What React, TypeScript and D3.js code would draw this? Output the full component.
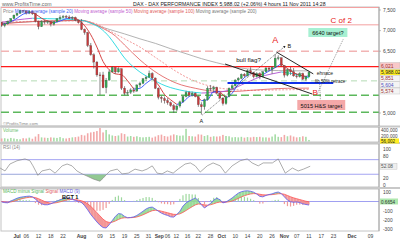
import React from "react";
import * as d3 from "d3";

// ---------- data (trading-day index, 0 = 1 Jul 2011) ----------
const FIRST_IDX = -5;
const opens = [7200,7121,7163,7227,7294,7376,7419,7492,7479,7428,7471,7419,7231,7095,7225,7209,7220,7157,7214,7290,7320,7344,7330,7300,7320,7250,7190,7029,6953,6637,6414,6236,5924,5923,5613,5798,5997,6108,5995,6074,5603,5480,5500,5560,5530,5680,5720,5830,5870,5960,5850,5600,5380,5350,5300,5250,5180,5080,5170,5270,5400,5500,5430,5480,5400,5200,5150,5320,5600,5580,5620,5480,5360,5230,5400,5600,5660,5800,5840,5940,5900,6030,5980,5880,5960,5880,6000,6090,6060,6110,6330,6340,6150,5920,6050,6000,5900,5880,5960,5820,5880];
const highs = [7210,7190,7240,7300,7390,7430,7510,7500,7485,7490,7480,7420,7240,7250,7260,7250,7225,7230,7300,7370,7380,7380,7370,7350,7340,7260,7280,7050,6970,6700,6450,6260,5990,6000,5850,6050,6140,6110,6110,6080,5650,5560,5600,5620,5700,5760,5850,5900,6030,5990,5860,5620,5420,5400,5360,5280,5220,5200,5300,5420,5540,5530,5520,5500,5420,5260,5350,5650,5680,5660,5640,5500,5380,5420,5620,5700,5820,5870,5960,5970,6060,6110,6000,5990,5990,6020,6120,6130,6140,6430,6400,6350,6160,6080,6120,6090,5960,5990,5980,5900,6000];
const lows = [7090,7080,7140,7200,7280,7350,7410,7440,7390,7400,7380,7200,7030,7090,7150,7160,7100,7120,7200,7260,7300,7300,7280,7260,7230,7170,7010,6900,6600,6390,6080,5880,5440,5600,5480,5790,5990,5950,5980,5560,5430,5430,5460,5490,5520,5620,5700,5780,5850,5820,5580,5330,5250,5230,5200,5150,5000,5040,5130,5250,5380,5400,5400,5380,5150,4960,5080,5300,5530,5500,5450,5330,5180,5200,5380,5560,5640,5760,5820,5860,5890,5960,5840,5860,5820,5870,5990,6010,5950,6100,6280,6130,5860,5890,5920,5880,5840,5860,5800,5780,5860];
const closes = [7121,7163,7227,7294,7376,7419,7492,7479,7428,7471,7419,7231,7095,7225,7209,7220,7157,7214,7290,7320,7344,7330,7300,7320,7250,7190,7029,6953,6637,6414,6236,5924,5923,5613,5798,5997,6108,5995,6074,5603,5480,5500,5560,5530,5680,5720,5830,5870,5960,5850,5600,5380,5350,5300,5250,5180,5080,5170,5270,5400,5500,5430,5480,5400,5200,5150,5320,5600,5580,5620,5480,5360,5230,5400,5600,5660,5800,5840,5940,5900,6030,5980,5880,5960,5880,6000,6090,6060,6110,6330,6340,6150,5920,6050,6000,5900,5880,5960,5820,5880,5988];
const volumes = [110,120,100,130,110,90,80,120,110,140,100,180,270,150,140,130,150,140,130,160,120,110,130,150,160,180,240,220,300,330,350,380,490,330,420,260,220,200,220,300,270,180,200,170,190,160,150,160,170,140,180,230,250,200,180,220,260,230,210,220,460,200,190,180,260,250,200,230,170,190,180,190,240,200,190,150,160,150,170,140,160,150,170,160,170,150,150,140,180,260,170,160,240,190,220,180,150,160,190,170,56];

// moving averages: [trading-day index, value]
const ma20: [number, number][] = [[-5,7150],[-3,7180],[0,7300],[2,7400],[4,7440],[6,7400],[8,7300],[10,7230],[12,7190],[14,7230],[16,7290],[18,7310],[20,7260],[22,7120],[24,6900],[26,6600],[28,6250],[30,6050],[32,5950],[34,5930],[36,5780],[38,5580],[40,5600],[42,5720],[44,5830],[46,5680],[48,5450],[50,5320],[52,5210],[54,5260],[56,5400],[58,5440],[60,5300],[62,5320],[64,5520],[66,5520],[68,5360],[70,5480],[72,5700],[74,5860],[76,5960],[78,5940],[80,5930],[82,6020],[84,6100],[86,6200],[88,6080],[90,5980],[92,5920],[94,5890],[95,5900]];
const ma50: [number, number][] = [[-5,7200],[0,7260],[5,7300],[10,7290],[15,7280],[21,7250],[24,7180],[27,7063],[30,6850],[32,6650],[35,6335],[40,5995],[44,5820],[47,5700],[53,5558],[60,5485],[66,5510],[70,5580],[73,5680],[76,5780],[79,5874],[83,5950],[86,5995],[90,5950],[95,5851]];
const ma100: [number, number][] = [[-5,7160],[5,7220],[15,7240],[21,7250],[24,7200],[27,7090],[32,6870],[35,6650],[40,6290],[46,5950],[52,5720],[58,5600],[64,5530],[70,5520],[76,5550],[82,5580],[88,5600],[95,5604]];
const maDotted: [number, number][] = [[-5,7210],[10,7230],[20,7235],[25,7185],[30,7000],[35,6800],[40,6600],[46,6300],[52,6000],[57,5800],[63,5650],[70,5570],[77,5550],[85,5560],[95,5574]];
const ma200: [number, number][] = [[-5,7180],[0,7200],[10,7230],[21,7245],[25,7150],[30,7030],[35,6920],[40,6800],[45,6690],[50,6560],[55,6440],[60,6320],[65,6220],[70,6130],[75,6070],[80,6040],[85,6030],[90,6025],[95,6021]];

const rsi: [number, number][] = [[-5.5,47],[-3.9,39],[-2.3,58],[0,67],[2.6,72],[4.2,67],[5.2,53],[6.8,27],[8.1,39],[10.7,44],[12.4,33],[14.7,53],[16.3,58],[17.9,53],[19.5,39],[21.2,31],[22.8,25],[24.8,17],[27,11],[28,19],[29.3,31],[30.3,39],[32.6,44],[34.2,31],[36.2,33],[38.4,44],[40.7,39],[42.3,44],[44,53],[45.6,33],[47.2,31],[48.9,39],[50.8,33],[52.4,44],[54.7,58],[56.4,61],[58,53],[59.6,36],[61.9,53],[63.8,61],[66.1,53],[67.8,33],[70,53],[72.6,67],[74.9,72],[76.5,61],[78.5,53],[80.1,61],[83.1,61],[85,72],[87.3,33],[89.6,47],[91.5,39],[93.2,44],[95.4,52]];

const macd = [-5,-12,-14,5,20,35,45,50,55,58,50,25,-5,-25,-35,-35,-25,-10,5,18,30,38,33,22,12,0,-10,-45,-90,-140,-180,-220,-255,-280,-285,-250,-205,-160,-130,-135,-160,-175,-172,-165,-150,-128,-105,-80,-65,-60,-80,-105,-125,-140,-150,-165,-168,-140,-105,-50,-15,5,20,38,10,-35,-70,-45,-20,15,35,20,-15,-5,15,38,65,90,105,113,115,110,100,80,55,50,65,75,82,95,102,85,50,15,-3,-8,-5,-12,-25,-32,-38];
const signal = [0,-5,-8,-5,3,14,25,33,40,45,47,42,30,15,0,-12,-18,-17,-12,-4,6,15,21,22,20,15,8,-5,-25,-52,-85,-120,-155,-190,-215,-225,-222,-210,-193,-180,-175,-175,-174,-172,-166,-156,-143,-128,-112,-99,-94,-97,-104,-112,-121,-130,-138,-139,-133,-117,-97,-76,-56,-37,-27,-29,-37,-39,-35,-25,-13,-6,-8,-7,-3,5,18,33,49,62,73,81,85,84,78,72,71,72,74,78,83,84,78,65,51,39,30,21,12,3,-4];

const tickIdx = [0,3,7,11,15,21,27,31,35,39,42.8,46.3,49,51.8,55.5,59,63,66.6,71,75,79,83,87,91,95,99,103,109,115];
const tickLabels = ["Jul","06","12","18","22","Aug","09","15","19","25","31","Sep","06","12","16","22","28","Oct","10","14","20","26","Nov","07","11","17","23","Dec","09"];
const monthLabels = ["Jul","Aug","Sep","Oct","Nov","Dec"];

const priceTicks = [7500, 7000, 6500, 5000];
const volTicks = [400000, 200000];
const rsiTicks = [100, 80, 20, 0];
const macdTicks = [100, -100, -200, -300];

const FONT = "Liberation Sans, Arial, sans-serif";

export default function App() {
  const W = 400, H = 240;
  const L = 1, R = 379;
  const main = { top: 7, bottom: 126 };
  const vol = { top: 127, bottom: 142 };
  const rsiP = { top: 144, bottom: 187 };
  const macdP = { top: 189, bottom: 231 };

  const x = d3.scaleLinear().domain([0, 109]).range([17, 352]);
  const y = d3.scaleLinear().domain([5000, 7500]).range([113, 10]);
  const yv = d3.scaleLinear().domain([0, 400000]).range([141.5, 130.5]);
  const yr = d3.scaleLinear().domain([0, 100]).range([185.2, 148.7]);
  const ym = d3.scaleLinear().domain([-100, 100]).range([210.8, 192.2]);

  const idxs = closes.map((_, i) => i + FIRST_IDX);

  const lineGen = d3.line<[number, number]>().x(d => x(d[0])).y(d => y(d[1])).curve(d3.curveMonotoneX);

  const slopeSegments = (pts: [number, number][], up: string, down: string) => {
    const segs: { pts: [number, number][]; c: string }[] = [];
    for (let i = 0; i < pts.length - 1; i++) {
      const c = pts[i + 1][1] >= pts[i][1] ? up : down;
      const last = segs[segs.length - 1];
      if (last && last.c === c) last.pts.push(pts[i + 1]);
      else segs.push({ pts: [pts[i], pts[i + 1]], c });
    }
    return segs;
  };

  const rsiLine = d3.line<[number, number]>().x(d => x(d[0])).y(d => yr(d[1]));
  const rsiArea = d3.area<[number, number]>().x(d => x(d[0])).y0(yr(30)).y1(d => yr(d[1]));

  const macdPts = idxs.map((ix, i) => [ix, macd[i]] as [number, number]);
  const sigPts = idxs.map((ix, i) => [ix, signal[i]] as [number, number]);
  const mLine = d3.line<[number, number]>().x(d => x(d[0])).y(d => ym(d[1]));

  const hLine = (v: number, color: string, w: number, dash?: string, x1 = L, x2 = R) => (
    <line x1={x1} x2={x2} y1={y(v)} y2={y(v)} stroke={color} strokeWidth={w} strokeDasharray={dash} />
  );

  const labelBox = (txt: string, yy: number, fill: string, color = "#333") => (
    <g>
      <rect x={380} y={yy - 3} width={20} height={6} fill={fill} stroke="#bbb" strokeWidth={0.4} />
      <text x={381} y={yy + 2} fontSize={5} fill={color}>{txt}</text>
    </g>
  );

  return (
    <svg width={W} height={H} style={{ position: "absolute", left: 0, top: 0, background: "#fff" }} fontFamily={FONT}>
      <defs>
        <clipPath id="mainClip"><rect x={L} y={main.top} width={R - L} height={main.bottom - main.top} /></clipPath>
        <clipPath id="rsiLow"><rect x={L} y={yr(30)} width={R - L} height={rsiP.bottom - yr(30)} /></clipPath>
        <marker id="arr" viewBox="0 0 6 6" refX="5" refY="3" markerWidth="4" markerHeight="4" orient="auto">
          <path d="M0,0 L6,3 L0,6 z" fill="#222" />
        </marker>
      </defs>
      <rect width={W} height={H} fill="#fff" />

      {/* header */}
      <text x={2} y={5.5} fontSize={5.2} fill="#666">www.ProfitsTime.com</text>
      <text x={133} y={5.5} fontSize={5.2} fill="#222">DAX - DAX PERFORMANCE INDEX   5,988.02 (+2.06%)   4 hours   11 Nov 2011 14:28</text>

      {/* panel frames */}
      {[main, vol, rsiP, macdP].map((p, i) => (
        <rect key={i} x={L} y={p.top} width={R - L} height={p.bottom - p.top} fill="none" stroke="#c4c4c4" strokeWidth={1} />
      ))}
      <line x1={0} x2={W} y1={126.5} y2={126.5} stroke="#c8c8c8" strokeWidth={2} />
      <line x1={0} x2={W} y1={143} y2={143} stroke="#c8c8c8" strokeWidth={2} />
      <line x1={0} x2={W} y1={188} y2={188} stroke="#c8c8c8" strokeWidth={2} />

      {/* main panel */}
      <g clipPath="url(#mainClip)">
        {hLine(7560, "#f4a0a0", 1)}
        {hLine(7140, "#f4a0a0", 1)}
        {hLine(6500, "#f2b4b4", 1.6, "8,4")}
        {hLine(6125, "#ff1a1a", 1.3)}
        {hLine(5780, "#b4dcb4", 1, "6,4")}
        {hLine(5430, "#5cb85c", 1.4, "8,4")}
        {hLine(5020, "#5cb85c", 1.4, "8,4")}

        <path d={lineGen(ma200) || ""} fill="none" stroke="#a0a0a0" strokeWidth={0.8} />
        <path d={lineGen(maDotted) || ""} fill="none" stroke="#f09090" strokeWidth={0.9} strokeDasharray="2,1.5" />
        <path d={lineGen(ma100) || ""} fill="none" stroke="#e05555" strokeWidth={0.8} />
        {slopeSegments(ma50, "#b050d0", "#20d8e0").map((s, i) => (
          <path key={"m50" + i} d={lineGen(s.pts) || ""} fill="none" stroke={s.c} strokeWidth={0.9} />
        ))}
        {slopeSegments(ma20, "#3050ff", "#d03030").map((s, i) => (
          <path key={"m20" + i} d={lineGen(s.pts) || ""} fill="none" stroke={s.c} strokeWidth={0.9} />
        ))}

        {idxs.map((ix, i) => {
          const up = closes[i] >= opens[i];
          const cx = x(ix);
          const y1 = y(Math.max(opens[i], closes[i]));
          const y2 = y(Math.min(opens[i], closes[i]));
          return (
            <g key={"c" + i}>
              <line x1={cx} x2={cx} y1={y(highs[i])} y2={y(lows[i])} stroke="#555" strokeWidth={0.7} />
              <rect x={cx - 1} y={y1} width={2} height={Math.max(0.8, y2 - y1)} fill={up ? "#2fa84f" : "#c8383a"} stroke="#444" strokeWidth={0.25} />
            </g>
          );
        })}

        <line x1={x(68.5)} x2={x(102.9)} y1={y(5728)} y2={y(5728)} stroke="#1030e8" strokeWidth={2} />

        <line x1={x(67.7)} y1={y(6190)} x2={x(96.1)} y2={y(5460)} stroke="#111" strokeWidth={0.9} />
        <line x1={x(84.4)} y1={y(6480)} x2={x(96.4)} y2={y(5950)} stroke="#111" strokeWidth={0.9} />
        <line x1={x(60.3)} y1={y(4951)} x2={x(87.3)} y2={y(6626)} stroke="#222" strokeWidth={0.6} strokeDasharray="1,1" markerEnd="url(#arr)" />
        <line x1={x(97.6)} y1={y(5450)} x2={x(106.2)} y2={y(6800)} stroke="#555" strokeWidth={0.6} strokeDasharray="1,1" />
        <line x1={x(98.5)} y1={y(5700)} x2={x(98.8)} y2={y(5140)} stroke="#555" strokeWidth={0.6} strokeDasharray="1,1" markerEnd="url(#arr)" />

        <text x={x(71.3)} y={y(6238)} fontSize={6.2} fill="#111">bull flag?</text>
        <text x={x(84)} y={y(6699)} fontSize={9} fill="#e82020" textAnchor="middle">A</text>
        <text x={x(88)} y={y(6578)} fontSize={5.5} fill="#111">B</text>
        <text x={x(97)} y={y(5437)} fontSize={8} fill="#e82020" textAnchor="middle">B</text>
        <text x={x(60)} y={y(4757)} fontSize={5.5} fill="#111" textAnchor="middle">A</text>
        <text x={x(102)} y={y(7184)} fontSize={8} fill="#e82020">C of 2</text>
        <text x={x(97.5)} y={y(5930)} fontSize={5} fill="#222">ehnace</text>
        <text x={x(97)} y={y(5720)} fontSize={4.5} fill="#222">fib 50% retrace</text>

        <rect x={x(94.8)} y={y(7063)} width={x(107.5) - x(94.8)} height={y(6845) - y(7063)} fill="#a6f0d2" />
        <text x={(x(94.8) + x(107.5)) / 2} y={y(6890)} fontSize={5.6} fill="#111" textAnchor="middle">6640 target?</text>
        <rect x={x(91.2)} y={y(5316)} width={x(106.8) - x(91.2)} height={y(5073) - y(5316)} fill="#f4a8a8" />
        <text x={(x(91.2) + x(106.8)) / 2} y={y(5120)} fontSize={5.6} fill="#111" textAnchor="middle">5015 H&amp;S target</text>
      </g>

      <text x={3} y={12.5} fontSize={4.6}>
        <tspan fill="#888">Price </tspan>
        <tspan fill="#4060f0">Moving average (sample 20) </tspan>
        <tspan fill="#c060d0">Moving average (sample 50) </tspan>
        <tspan fill="#e06060">Moving average (sample 100) </tspan>
        <tspan fill="#777">Moving average (sample 200)</tspan>
      </text>
      <text x={3} y={124.5} fontSize={4.4} fill="#888">©ProfitsTime.com</text>

      <line x1={R} x2={R} y1={main.top} y2={main.bottom} stroke="#999" strokeWidth={0.8} />
      {priceTicks.map(v => (
        <g key={"pt" + v}>
          <line x1={R} x2={R + 2} y1={y(v)} y2={y(v)} stroke="#999" strokeWidth={0.6} />
          <text x={383} y={y(v) + 1.8} fontSize={5} fill="#444">{d3.format(",")(v)}</text>
        </g>
      ))}
      {labelBox("6,021", 65.5, "#f8c8c8", "#a03030")}
      {labelBox("5,988.02", 72.3, "#ffee22", "#222")}
      {labelBox("5,851", 78.2, "#f4f4f4", "#a03030")}
      {labelBox("5,604", 84.8, "#f4f4f4", "#5050c0")}
      {labelBox("5,574", 91, "#f4f4f4", "#a03030")}

      <text x={3} y={131.5} fontSize={4.6} fill="#6cbf6c">Volume</text>
      {idxs.map((ix, i) => (
        <rect key={"v" + i} x={x(ix) - 0.8} y={yv(volumes[i] * 1000)} width={1.6} height={yv(0) - yv(volumes[i] * 1000)}
          fill={closes[i] >= opens[i] ? "#a6dca6" : "#f2a8a8"} />
      ))}
      <line x1={R} x2={R} y1={vol.top} y2={vol.bottom} stroke="#999" strokeWidth={0.8} />
      {volTicks.map(v => (
        <text key={"vt" + v} x={381} y={yv(v) + 1.8} fontSize={4.6} fill="#444">{d3.format(",")(v)}</text>
      ))}
      <rect x={380} y={138.5} width={19} height={5} fill="#ffee22" />
      <text x={381} y={142.5} fontSize={4.6} fill="#222">56,002</text>

      <text x={3} y={149} fontSize={4.6} fill="#888">RSI (14)</text>
      <line x1={L} x2={R} y1={yr(70)} y2={yr(70)} stroke="#9a9af0" strokeWidth={0.9} />
      <line x1={L} x2={R} y1={yr(30)} y2={yr(30)} stroke="#9a9af0" strokeWidth={0.9} />
      <g clipPath="url(#rsiLow)">
        <path d={rsiArea(rsi) || ""} fill="#7fbf7f" opacity={0.85} />
      </g>
      <path d={rsiLine(rsi) || ""} fill="none" stroke="#8a8a8a" strokeWidth={0.7} />
      <line x1={R} x2={R} y1={rsiP.top} y2={rsiP.bottom} stroke="#999" strokeWidth={0.8} />
      {rsiTicks.map(v => (
        <text key={"rt" + v} x={383} y={yr(v) + 1.8} fontSize={4.8} fill="#444">{v}</text>
      ))}
      <rect x={380} y={yr(52.08) - 3} width={17} height={6} fill="#eeeeee" stroke="#bbb" strokeWidth={0.4} />
      <text x={381} y={yr(52.08) + 2} fontSize={4.8} fill="#555">52.08</text>

      <text x={3} y={193} fontSize={4.6}>
        <tspan fill="#5cb85c">MACD minus Signal </tspan>
        <tspan fill="#e06060">Signal </tspan>
        <tspan fill="#6060e0">MACD (9)</tspan>
      </text>
      <line x1={L} x2={R} y1={ym(0)} y2={ym(0)} stroke="#8888ee" strokeWidth={0.8} />
      {idxs.map((ix, i) => {
        const h = macd[i] - signal[i];
        return (
          <rect key={"h" + i} x={x(ix) - 0.6} width={1.2}
            y={Math.min(ym(0), ym(h))} height={Math.abs(ym(h) - ym(0))}
            fill={h >= 0 ? "#9ed89e" : "#f09a9a"} />
        );
      })}
      {idxs.slice(0, -1).map((ix, i) => {
        const d = (macd[i] - signal[i]) + (macd[i + 1] - signal[i + 1]);
        const pts = [[x(ix), ym(macd[i])], [x(ix + 1), ym(macd[i + 1])], [x(ix + 1), ym(signal[i + 1])], [x(ix), ym(signal[i])]];
        return <polygon key={"b" + i} points={pts.map(p => p.join(",")).join(" ")} fill={d >= 0 ? "#8fd88f" : "#f28c8c"} opacity={0.9} />;
      })}
      <path d={mLine(sigPts) || ""} fill="none" stroke="#ff5555" strokeWidth={0.8} />
      <path d={mLine(macdPts) || ""} fill="none" stroke="#5a5af0" strokeWidth={0.8} />
      <text x={62} y={199} fontSize={5.6} fill="#111" fontWeight="bold">BGT 1</text>
      <line x1={R} x2={R} y1={macdP.top} y2={macdP.bottom} stroke="#999" strokeWidth={0.8} />
      {macdTicks.map(v => (
        <text key={"mt" + v} x={383} y={ym(v) + 1.8} fontSize={4.8} fill="#444">{v}</text>
      ))}
      <rect x={380} y={ym(0) - 3} width={18} height={6} fill="#aee8ae" />
      <text x={381} y={ym(0) + 2} fontSize={4.6} fill="#333">0.6654</text>

      {tickIdx.map((ix, i) => (
        <text key={"xt" + i} x={x(ix)} y={237.5} fontSize={5} textAnchor="middle" fill="#444"
          fontWeight={monthLabels.includes(tickLabels[i]) ? "bold" : "normal"}>{tickLabels[i]}</text>
      ))}
    </svg>
  );
}
